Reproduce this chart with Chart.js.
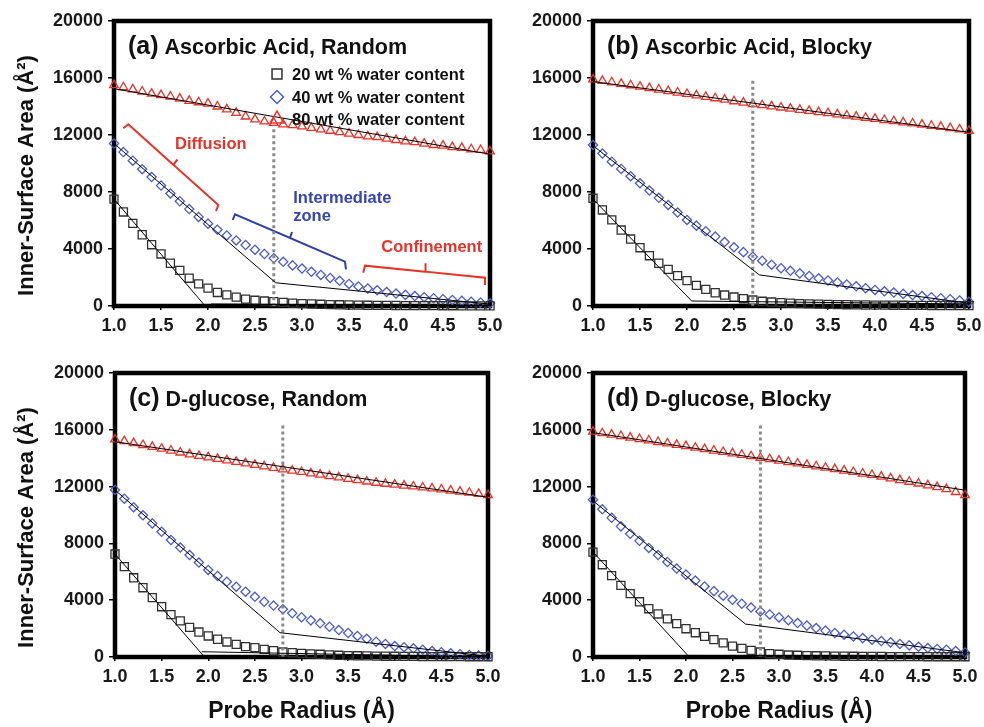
<!DOCTYPE html>
<html><head><meta charset="utf-8">
<script src="https://cdn.jsdelivr.net/npm/chart.js@4.4.1/dist/chart.umd.min.js"></script>
<style>
html,body{margin:0;padding:0;background:#fff;}
body{width:984px;height:727px;position:relative;overflow:hidden;}
canvas{position:absolute;left:0;top:0;}
</style></head><body>
<canvas id="ca" width="984" height="727"></canvas>
<canvas id="cb" width="984" height="727"></canvas>
<canvas id="cc" width="984" height="727"></canvas>
<canvas id="cd" width="984" height="727"></canvas>
<script>
// ---------- data ----------
const radius = [1.0,1.1,1.2,1.3,1.4,1.5,1.6,1.7,1.8,1.9,2.0,2.1,2.2,2.3,2.4,2.5,2.6,2.7,2.8,2.9,3.0,3.1,3.2,3.3,3.4,3.5,3.6,3.7,3.8,3.9,4.0,4.1,4.2,4.3,4.4,4.5,4.6,4.7,4.8,4.9,5.0];
const xTicks = [1.0,1.5,2.0,2.5,3.0,3.5,4.0,4.5,5.0];
const yTicks = [0,4000,8000,12000,16000,20000];
const seriesNames = ['20 wt % water content','40 wt % water content','80 wt % water content'];

// (a) Ascorbic Acid, Random
const a20 = [7500,6600,5800,5000,4300,3650,3000,2500,1950,1550,1250,950,780,620,480,400,350,300,250,200,170,140,120,100,85,70,60,50,45,40,35,30,28,25,22,20,18,15,13,11,10];
const a40 = [11400,10800,10200,9600,9050,8450,7900,7350,6800,6250,5780,5350,4950,4600,4280,3950,3650,3350,3100,2850,2630,2400,2180,1970,1770,1550,1370,1230,1100,980,870,780,700,620,550,480,420,360,300,250,190];
const a80 = [15500,15350,15200,15050,14900,14800,14700,14550,14400,14300,14200,14000,13800,13550,13300,13100,12950,12850,12750,12700,12600,12500,12400,12300,12200,12100,12000,11900,11850,11750,11650,11550,11500,11400,11300,11250,11150,11100,11000,10950,10850];
const a20fit = [[[1.0,7500],[1.97,0]],[[2.03,140],[5.0,20]]];
const a40fit = [[[1.0,11400],[2.72,1630],[5.0,130]]];
const a80fit = [[[1.0,15250],[5.0,10650]]];
const aDivider = [[2.7,12400],[2.7,0]];

// (b) Ascorbic Acid, Blocky
const b20 = [7560,6740,6040,5330,4700,4090,3530,3000,2570,2130,1780,1450,1170,930,770,630,510,420,330,280,240,200,170,150,130,110,100,90,80,70,65,60,55,50,45,40,38,35,32,30,28];
const b40 = [11300,10700,10130,9620,9110,8610,8100,7590,7090,6560,6040,5640,5250,4870,4490,4120,3780,3460,3180,2900,2650,2470,2290,2110,1940,1790,1650,1510,1380,1250,1130,1030,940,850,770,700,620,550,480,390,300];
const b80 = [15900,15800,15700,15590,15490,15390,15290,15190,15080,14980,14880,14780,14680,14580,14480,14370,14270,14170,14090,14010,13930,13850,13770,13690,13610,13530,13450,13370,13290,13210,13130,13050,12970,12890,12810,12730,12650,12570,12480,12390,12300];
const b20fit = [[[1.0,7500],[2.05,350],[5.0,140]]];
const b40fit = [[[1.0,11250],[2.77,2180],[5.0,190]]];
const b80fit = [[[1.0,15750],[5.0,12190]]];
const bDivider = [[2.7,15800],[2.7,0]];

// (c) D-glucose, Random
const c20 = [7250,6360,5580,4880,4180,3540,2980,2540,2090,1760,1480,1250,1060,890,730,660,540,440,350,300,260,220,190,150,120,100,85,75,65,55,50,45,40,35,30,28,25,22,20,20,20];
const c40 = [11760,11150,10550,9980,9410,8820,8240,7710,7180,6650,6130,5710,5300,4950,4600,4240,3890,3620,3360,3080,2800,2580,2370,2130,1900,1690,1480,1280,1080,920,770,690,610,510,420,340,260,200,140,100,70];
const c80 = [15330,15200,15060,14930,14800,14670,14540,14400,14270,14160,14060,13950,13850,13740,13640,13530,13430,13320,13220,13120,13030,12930,12840,12740,12650,12550,12460,12360,12270,12200,12140,12070,12010,11940,11880,11800,11720,11650,11570,11490,11410];
const c20fit = [[[1.0,7250],[1.96,0]],[[1.93,370],[5.0,0]]];
const c40fit = [[[1.0,11760],[2.77,1710],[5.0,50]]];
const c80fit = [[[1.0,15160],[5.0,11250]]];
const cDivider = [[2.8,16300],[2.8,0]];

// (d) D-glucose, Blocky
const d20 = [7390,6500,5730,5040,4460,3890,3400,3030,2680,2350,1990,1710,1450,1220,990,770,610,460,350,230,190,140,120,100,85,75,65,55,50,45,40,35,30,28,25,22,20,20,20,20,20];
const d40 = [11080,10400,9800,9200,8680,8180,7680,7180,6690,6230,5800,5380,4970,4640,4320,4030,3750,3480,3210,3000,2790,2590,2390,2210,2040,1860,1690,1570,1450,1330,1220,1120,1030,920,820,720,630,570,510,420,320];
const d80 = [15870,15760,15660,15560,15450,15350,15250,15140,15040,14940,14850,14740,14640,14540,14440,14340,14240,14140,14030,13930,13830,13730,13630,13530,13430,13330,13230,13130,13030,12920,12820,12700,12580,12460,12340,12220,12090,11960,11820,11620,11400];
const d20fit = [[[1.0,7400],[2.02,110],[5.0,50]]];
const d40fit = [[[1.0,11000],[2.64,2320],[5.0,300]]];
const d80fit = [[[1.0,15800],[5.0,11750]]];
const dDivider = [[2.8,16300],[2.8,0]];

// annotations of panel (a), in data units
const diffusionBracket = [[1.099,12470],[1.152,12750],[1.631,9916],[1.676,10281],[1.631,9916],[2.110,7088],[2.085,6667]];
const intermediateBracket = [[2.263,6035],[2.287,6435],[2.872,4772],[2.894,5193],[2.872,4772],[3.457,3109],[3.468,2575]];
const confinementBracket = [[3.652,2337],[3.670,2828],[4.309,2407],[4.319,2996],[4.309,2407],[4.947,1986],[4.947,1474]];
const notes = [
  {text:'Diffusion', x:2.03, y:11370, align:'center', color:'#e5332a'},
  {text:'Intermediate', x:2.907, y:7580, align:'left', color:'#3545ae'},
  {text:'zone', x:2.907, y:6270, align:'left', color:'#3545ae'},
  {text:'Confinement', x:4.38, y:4120, align:'center', color:'#e5332a'}
];

// ---------- styling ----------
const FONT = "'Liberation Sans', Arial, Helvetica, sans-serif";
const C20 = '#303030', C40 = '#4c5cc5', C80 = '#e5332a';
const RED = '#e5332a', BLUE = '#2f3fa3';

function pts(arr){ return radius.map((r,i)=>({x:r,y:arr[i]})); }
function seg(s){ return s.map(p=>({x:p[0],y:p[1]})); }

function drawMarker(ctx, style, x, y, r, color){
  ctx.save(); ctx.strokeStyle=color; ctx.lineWidth=1.5; ctx.beginPath();
  if(style==='rect'){ const h=r*Math.SQRT1_2; ctx.rect(x-h,y-h,2*h,2*h); }
  else if(style==='rectRot'){ ctx.moveTo(x-r,y); ctx.lineTo(x,y-r); ctx.lineTo(x+r,y); ctx.lineTo(x,y+r); ctx.closePath(); }
  else { const h=r*Math.sqrt(3)/2; ctx.moveTo(x,y-r); ctx.lineTo(x+h,y+r/2); ctx.lineTo(x-h,y+r/2); ctx.closePath(); }
  ctx.stroke(); ctx.restore();
}

const boxPlugin = {
  id:'box',
  beforeDatasetsDraw(chart){
    const {ctx, chartArea:a} = chart;
    ctx.save(); ctx.strokeStyle='#000'; ctx.lineWidth=4.5;
    ctx.strokeRect(a.left, a.top, a.right-a.left, a.bottom-a.top);
    ctx.restore();
  }
};

const textPlugin = {
  id:'texts',
  afterDraw(chart, args, opts){
    const {ctx, chartArea:a, scales} = chart;
    ctx.save();
    ctx.fillStyle='#111'; ctx.textBaseline='alphabetic'; ctx.textAlign='left';
    // panel title
    ctx.font = "bold 25px " + FONT;
    const x0 = a.left + 14, yb = a.top + 32.5;
    ctx.fillText(opts.label, x0, yb);
    const w = ctx.measureText(opts.label).width;
    ctx.font = "bold 21.5px " + FONT;
    ctx.fillText(opts.title, x0 + w + 6, yb);
    // y title
    if(opts.yTitle){
      ctx.save();
      ctx.translate(27, a.top + 154.5);
      ctx.rotate(-Math.PI/2);
      ctx.font = "bold 22px " + FONT; ctx.textAlign='center'; ctx.textBaseline='middle';
      ctx.fillText('Inner-Surface Area (Å²)', 0, 0);
      ctx.restore();
    }
    // legend
    if(opts.legend){
      const styles=['rect','rectRot','triangle'], cols=[C20,C40,C80], rads=[7,6.5,8];
      ctx.font = "bold 16.5px " + FONT; ctx.textBaseline='middle'; ctx.fillStyle='#111';
      [53,76,98].forEach((dy,i)=>{
        drawMarker(ctx, styles[i], a.left+163, a.top+dy, rads[i], cols[i]);
        ctx.fillStyle='#111';
        ctx.fillText(seriesNames[i], a.left+178, a.top+dy+1);
      });
    }
    // annotations
    if(opts.notes){
      ctx.font = "bold 16.5px " + FONT; ctx.textBaseline='middle';
      notes.forEach(n=>{
        ctx.fillStyle=n.color; ctx.textAlign=n.align;
        ctx.fillText(n.text, scales.x.getPixelForValue(n.x), scales.y.getPixelForValue(n.y));
      });
    }
    ctx.restore();
  }
};

function panel(id, p){
  const A = p.area, yW = 70, xH = p.xTitle ? 70 : 50;
  const ds = [];
  const addFits = (fits)=>fits.forEach(s=>ds.push({type:'line', data:seg(s), borderColor:'#000', borderWidth:1, pointRadius:0, clip:false}));
  addFits(p.f80); addFits(p.f40); addFits(p.f20);
  ds.push({type:'line', data:seg(p.div), borderColor:'#8a8a8a', borderWidth:3, borderDash:[3,3], pointRadius:0, clip:false});
  if(p.brackets){
    p.brackets.forEach(b=>ds.push({type:'line', data:seg(b.pts), borderColor:b.color, borderWidth:2, pointRadius:0, clip:false, tension:0}));
  }
  ds.push({type:'scatter', label:seriesNames[0], data:pts(p.s20), pointStyle:'rect', pointRadius:5.7, borderColor:C20, backgroundColor:'rgba(0,0,0,0)', pointBorderWidth:1.3, clip:false});
  ds.push({type:'scatter', label:seriesNames[1], data:pts(p.s40), pointStyle:'rectRot', pointRadius:4.6, borderColor:C40, backgroundColor:'rgba(0,0,0,0)', pointBorderWidth:1.3, clip:false});
  ds.push({type:'scatter', label:seriesNames[2], data:pts(p.s80), pointStyle:'triangle', pointRadius:5, borderColor:C80, backgroundColor:'rgba(0,0,0,0)', pointBorderWidth:1.3, clip:false});

  new Chart(document.getElementById(id), {
    data:{datasets:ds},
    options:{
      responsive:false, animation:false, events:[],
      layout:{padding:{left:A.l-yW, top:A.t, right:984-A.r, bottom:727-A.b-xH}},
      plugins:{legend:{display:false}, tooltip:{enabled:false},
        texts:{label:p.label, title:p.title, yTitle:p.yTitle, legend:p.legend, notes:p.notes}},
      scales:{
        x:{type:'linear', min:1, max:5,
          afterBuildTicks:s=>{ s.ticks = xTicks.map(v=>({value:v})); },
          ticks:{callback:v=>Number(v).toFixed(1), font:{family:FONT, size:18, weight:'bold'}, color:'#1a1a1a', padding:5, maxRotation:0, autoSkip:false},
          grid:{drawOnChartArea:false, tickLength:4, color:'#000', lineWidth:1.5},
          border:{display:false},
          title:{display:!!p.xTitle, text:'Probe Radius (Å)', font:{family:FONT, size:23, weight:'bold'}, color:'#111', padding:{top:0,bottom:2}},
          afterFit:s=>{ s.height=xH; s.paddingLeft=0; s.paddingRight=0; }
        },
        y:{type:'linear', min:0, max:20000,
          afterBuildTicks:s=>{ s.ticks = yTicks.map(v=>({value:v})); },
          ticks:{callback:v=>String(v), font:{family:FONT, size:18, weight:'bold'}, color:'#1a1a1a', padding:5},
          grid:{drawOnChartArea:false, tickLength:6, color:'#000', lineWidth:1.5},
          border:{display:false},
          afterFit:s=>{ s.width=yW; s.paddingTop=0; s.paddingBottom=0; }
        }
      }
    },
    plugins:[boxPlugin, textPlugin]
  });
}

panel('ca', {label:'(a)', title:'Ascorbic Acid, Random', area:{l:114,t:21,r:490,b:306}, yTitle:true, xTitle:false, legend:true, notes:true,
  s20:a20, s40:a40, s80:a80, f20:a20fit, f40:a40fit, f80:a80fit, div:aDivider,
  brackets:[{pts:diffusionBracket,color:RED},{pts:intermediateBracket,color:BLUE},{pts:confinementBracket,color:RED}]});
panel('cb', {label:'(b)', title:'Ascorbic Acid, Blocky', area:{l:593,t:21,r:969,b:306}, yTitle:false, xTitle:false,
  s20:b20, s40:b40, s80:b80, f20:b20fit, f40:b40fit, f80:b80fit, div:bDivider});
panel('cc', {label:'(c)', title:'D-glucose, Random', area:{l:115,t:373,r:488,b:657}, yTitle:true, xTitle:true,
  s20:c20, s40:c40, s80:c80, f20:c20fit, f40:c40fit, f80:c80fit, div:cDivider});
panel('cd', {label:'(d)', title:'D-glucose, Blocky', area:{l:593,t:373,r:965,b:657}, yTitle:false, xTitle:true,
  s20:d20, s40:d40, s80:d80, f20:d20fit, f40:d40fit, f80:d80fit, div:dDivider});
</script>
</body></html>
